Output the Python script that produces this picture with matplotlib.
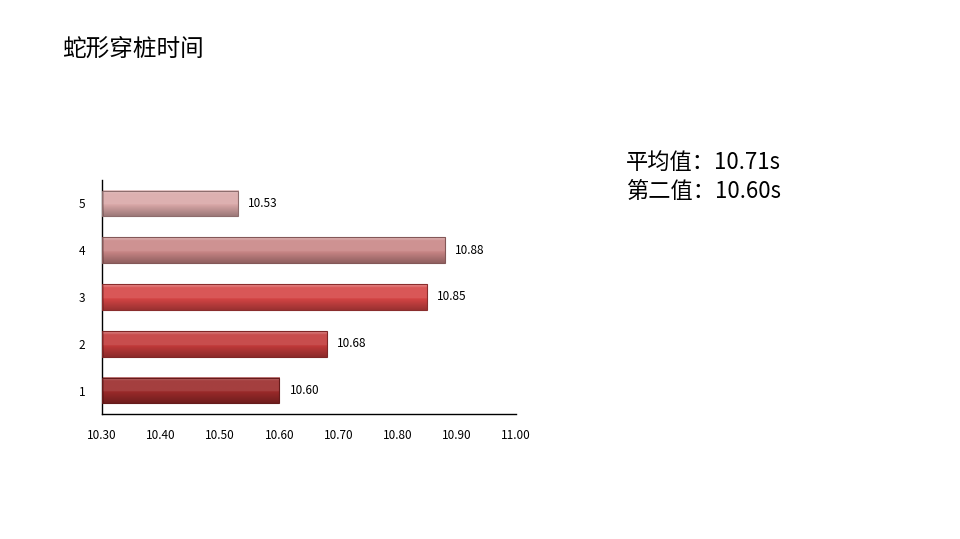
import matplotlib
matplotlib.use("Agg")
import matplotlib.pyplot as plt
import numpy as np
from matplotlib.colors import to_rgb

plt.rcParams['font.family'] = ['Noto Sans CJK SC', 'DejaVu Sans']

title = "蛇形穿桩时间"
categories = ["1", "2", "3", "4", "5"]
values = [10.60, 10.68, 10.85, 10.88, 10.53]
bar_colors = ["#9B2A2A", "#C23A3A", "#D54545", "#C98686", "#DAA8A8"]
xticks = [10.30, 10.40, 10.50, 10.60, 10.70, 10.80, 10.90, 11.00]
notes = ["平均值：10.71s", "第二值：10.60s"]

W, H = 960, 539
fig = plt.figure(figsize=(W / 100, H / 100), dpi=100)
ax = fig.add_axes([102 / W, (H - 414) / H, (516 - 102) / W, (414 - 180) / H])

xmin, xmax = xticks[0], xticks[-1]
ax.set_xlim(xmin, xmax)
ax.set_ylim(0.5, len(categories) + 0.5)
bh = 0.55

def shade(c, f):
    c = np.array(to_rgb(c))
    if f >= 0:
        return c + (1 - c) * f
    return c * (1 + f)

ys = np.arange(1, len(categories) + 1)
for y, v, c in zip(ys, values, bar_colors):
    t = np.linspace(0, 1, 64)
    grad = []
    for tt in t:
        if tt < 0.12:
            col = shade(c, 0.4 - tt * 2.0)
        elif tt < 0.55:
            col = shade(c, 0.1)
        else:
            col = shade(c, -0.28 * (tt - 0.55) / 0.45)
        grad.append(col)
    grad = np.array(grad)[::-1].reshape(-1, 1, 3)
    ax.imshow(grad, extent=(xmin, v, y - bh / 2, y + bh / 2), aspect='auto',
              origin='lower', zorder=2, interpolation='bilinear')
    ax.barh(y, v - xmin, left=xmin, height=bh, facecolor='none',
            edgecolor=shade(c, -0.35), linewidth=0.8, zorder=3)
    ax.text(v + 0.017, y, f"{v:.2f}", va='center', ha='left', fontsize=8.5, color='black')

ax.set_aspect('auto')
ax.set_xlim(xmin, xmax)
ax.set_ylim(0.5, len(categories) + 0.5)

ax.set_yticks(ys)
ax.set_yticklabels(categories, fontsize=8.5)
ax.set_xticks(xticks)
ax.set_xticklabels([f"{x:.2f}" for x in xticks], fontsize=8.5)
ax.tick_params(axis='both', length=0)
ax.tick_params(axis='x', pad=11)
ax.tick_params(axis='y', pad=12)
for s in ['top', 'right']:
    ax.spines[s].set_visible(False)
ax.spines['left'].set_linewidth(1.0)
ax.spines['bottom'].set_linewidth(1.0)

fig.text(62 / W, 1 - 49 / H, title, fontsize=17, va='center', ha='left')
fig.text(626 / W, 1 - 162 / H, notes[0], fontsize=16, va='center', ha='left')
fig.text(626 / W, 1 - 191 / H, notes[1], fontsize=16, va='center', ha='left')

fig.savefig("out.png", dpi=100)
